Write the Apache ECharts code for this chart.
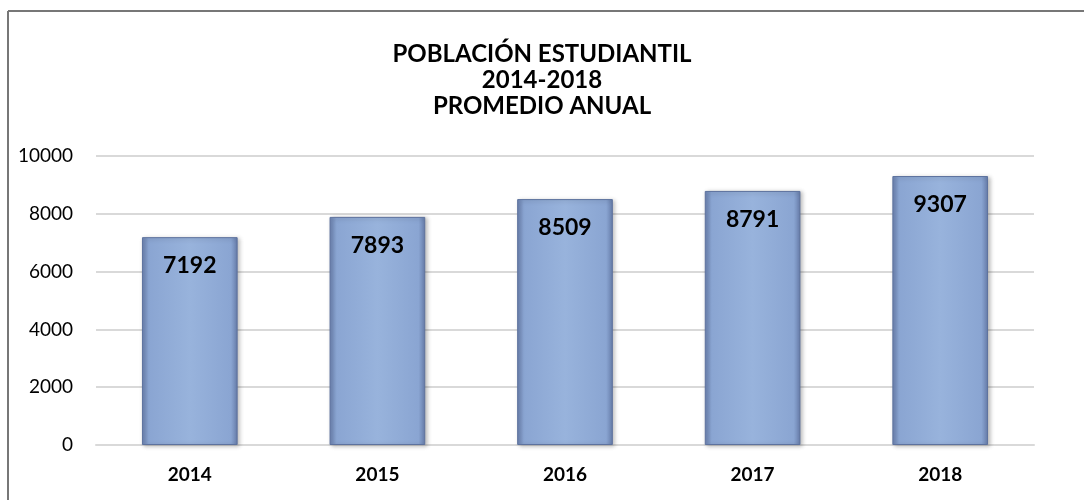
<!DOCTYPE html>
<html>
<head>
<meta charset="utf-8">
<title>Población estudiantil</title>
<script src="https://cdn.jsdelivr.net/npm/echarts@6/dist/echarts.min.js"></script>
<style>
 html, body { margin: 0; padding: 0; background: #fff; }
 #chart { width: 1084px; height: 500px; }
</style>
</head>
<body>
<div id="chart"></div>
<script type="text/javascript">
// datos del grafico
var years = ['2014', '2015', '2016', '2017', '2018'];
var promedio = [7192, 7893, 8509, 8791, 9307];
var yTicks = [0, 2000, 4000, 6000, 8000, 10000];

var titleLines = ['POBLACIÓN ESTUDIANTIL', '2014-2018', 'PROMEDIO ANUAL'];

var font = 'Lato, "Open Sans", sans-serif';

var myChart = echarts.init(document.getElementById('chart'));

// relleno tipo bisel
var barFill = new echarts.graphic.LinearGradient(0, 0, 1, 0, [
    { offset: 0, color: '#6a80ae' },
    { offset: 0.07, color: '#8aa5d2' },
    { offset: 0.5, color: '#98b3dc' },
    { offset: 0.93, color: '#8aa5d2' },
    { offset: 1, color: '#667ca9' }
]);

var option = {
    backgroundColor: '#fff',
    animation: false,
    title: {
        text: titleLines.join('\n'),
        left: 'center',
        top: 36,
        textStyle: {
            fontFamily: font,
            fontWeight: 'bold',
            fontSize: 24,
            lineHeight: 26,
            color: '#000'
        }
    },
    graphic: [
        { type: 'line', shape: { x1: 8, y1: 11, x2: 1084, y2: 11 }, style: { stroke: '#777', lineWidth: 2 } },
        { type: 'line', shape: { x1: 8, y1: 11, x2: 8, y2: 500 }, style: { stroke: '#777', lineWidth: 2 } }
    ],
    grid: {
        left: 96,
        right: 50,
        top: 156,
        bottom: 55,
        containLabel: false
    },
    xAxis: {
        type: 'category',
        data: years,
        axisTick: { show: false },
        axisLine: { lineStyle: { color: '#d9d9d9', width: 2 } },
        axisLabel: {
            margin: 20,
            fontFamily: font,
            fontWeight: 'bold',
            fontSize: 19,
            color: '#000'
        }
    },
    yAxis: {
        type: 'value',
        min: yTicks[0],
        max: yTicks[yTicks.length - 1],
        interval: 2000,
        axisLine: { show: false },
        axisTick: { show: false },
        splitLine: { lineStyle: { color: '#d9d9d9', width: 2 } },
        axisLabel: {
            margin: 23,
            fontFamily: font,
            fontSize: 19,
            color: '#000',
            formatter: function (v) { return String(v); }
        }
    },
    series: [
        {
            name: 'Promedio anual',
            type: 'bar',
            data: promedio,
            barWidth: '51%',
            itemStyle: {
                color: barFill,
                borderColor: '#5d729e',
                borderWidth: 1,
                shadowColor: 'rgba(0,0,0,0.25)',
                shadowBlur: 4,
                shadowOffsetX: 2,
                shadowOffsetY: 1
            },
            label: {
                show: true,
                position: 'insideTop',
                distance: 17,
                fontFamily: font,
                fontWeight: 'bold',
                fontSize: 23,
                color: '#000'
            }
        }
    ]
};

myChart.setOption(option);
</script>
</body>
</html>
